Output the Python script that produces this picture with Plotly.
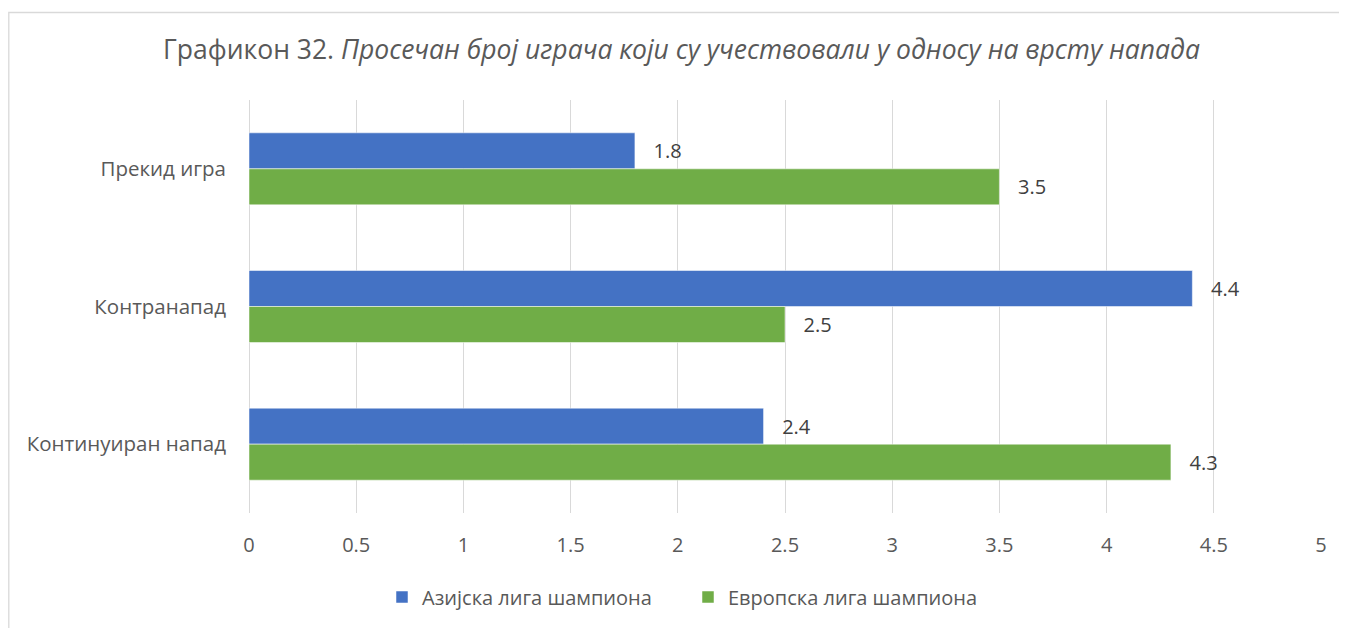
import plotly.graph_objects as go

categories = ["Прекид игра", "Контранапад", "Континуиран напад"]
asia = [1.8, 4.4, 2.4]
europe = [3.5, 2.5, 4.3]
series_names = ["Азијска лига шампиона", "Европска лига шампиона"]
colors = ["#4472C4", "#70AD47"]
x_ticks = [0, 0.5, 1, 1.5, 2, 2.5, 3, 3.5, 4, 4.5, 5]

OFF = 8  # page body margin offset
W, H = 1347 - OFF, 628 - OFF
ML, MT = 249 - OFF, 100 - OFF
MR = 1347 - 1321
MB = 628 - 513
PW, PH = W - ML - MR, H - MT - MB

FONT = "Open Sans"
TXT = "#595959"

fig = go.Figure()
for name, vals, col in zip(series_names, [asia, europe], colors):
    fig.add_trace(go.Bar(
        y=categories, x=vals, name=name, orientation="h",
        marker=dict(color=col, line=dict(color="rgba(255,255,255,0.5)", width=1)),
        text=[f"\u00a0\u00a0\u00a0{v}" for v in vals],
        textposition="outside", cliponaxis=False,
        textfont=dict(family=FONT, size=20, color="#404040"),
        hoverinfo="x+name",
    ))

def px2paper_x(px):
    return (px - OFF - ML) / PW

def px2paper_y(py):
    return (H - MB - (py - OFF)) / PH

fig.add_shape(type="rect", xref="paper", yref="paper",
              x0=px2paper_x(8.8), x1=px2paper_x(1347 + 10),
              y0=px2paper_y(628 + 10), y1=px2paper_y(12.5),
              line=dict(color="#d9d9d9", width=1.3), fillcolor="rgba(0,0,0,0)",
              layer="below")

def cx(px):
    return (px - OFF) / W

def cy(py):
    return 1 - (py - OFF) / H

fig.update_layout(
    width=W, height=H, autosize=False,
    margin=dict(l=ML, r=MR, t=MT, b=MB),
    paper_bgcolor="white", plot_bgcolor="white",
    barmode="group", bargap=0.477, bargroupgap=0,
    font=dict(family=FONT, color=TXT),
    title=dict(
        text="Графикон 32. <i>Просечан број играча који су учествовали у односу на врсту напада</i>",
        x=cx(681.5), xref="container", xanchor="center",
        y=cy(50), yref="container", yanchor="middle",
        font=dict(family=FONT, size=26.5, color=TXT),
    ),
    xaxis=dict(
        range=[0, 5], tickvals=x_ticks, ticktext=[str(v) for v in x_ticks],
        showgrid=True, gridcolor="#d9d9d9", gridwidth=1,
        zeroline=True, zerolinecolor="#d9d9d9", zerolinewidth=1,
        showline=False, ticks="",
        tickfont=dict(family=FONT, size=20, color=TXT),
        ticklabelstandoff=18,
    ),
    yaxis=dict(
        autorange="reversed", showgrid=False, zeroline=False, showline=False,
        ticks="", tickfont=dict(family=FONT, size=20.5, color=TXT),
        ticklabelstandoff=22,
    ),
    legend=dict(
        orientation="h", xref="container", x=cx(382), xanchor="left",
        yref="container", y=cy(597), yanchor="middle",
        font=dict(family=FONT, size=20, color=TXT),
        entrywidth=261, entrywidthmode="pixels", traceorder="normal",
    ),
    showlegend=True,
)

fig.write_html("out.html")
